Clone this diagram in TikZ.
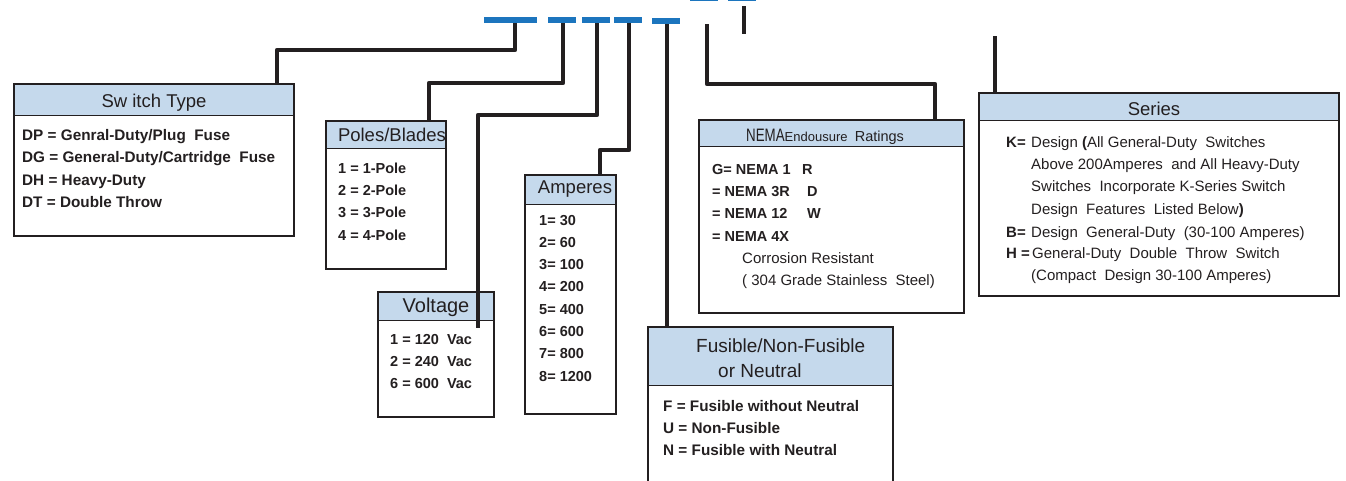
\documentclass[tikz,border=0pt]{standalone}
\usepackage{fontspec}
\setmainfont{Liberation Sans}
\definecolor{ink}{RGB}{35,31,32}
\definecolor{hdrblue}{RGB}{197,217,236}
\definecolor{dashblue}{RGB}{28,117,190}
\newcommand\fbold{\fontsize{14.5}{17}\selectfont\bfseries}
\newcommand\fboldw{\fontsize{15.3}{17}\selectfont\bfseries}
\newcommand\freg{\fontsize{15}{17}\selectfont}
\newcommand\ftitle{\fontsize{18.5}{21}\selectfont}
\begin{document}
\begin{tikzpicture}[x=1pt,y=-1pt,
  conn/.style={draw=ink,line width=4.2pt,line join=round},
  box/.style={draw=ink,line width=1.8pt,inner sep=0pt,anchor=north west},
  hdr/.style={fill=hdrblue,draw=ink,line width=1.1pt,inner sep=0pt,anchor=north west},
  dashbar/.style={fill=dashblue,inner sep=0pt,minimum height=5pt,anchor=west},
  lb/.style={anchor=base west,inner sep=0pt,text=ink,font=\fbold},
  lbw/.style={anchor=base west,inner sep=0pt,text=ink,font=\fboldw},
  lr/.style={anchor=base west,inner sep=0pt,text=ink,font=\freg},
  ttl/.style={anchor=base,inner sep=0pt,text=ink,font=\ftitle}]
\useasboundingbox (0,0) rectangle (1346,480);

% ---------- boxes ----------
% Switch Type
\node[hdr,minimum width=280pt,minimum height=32pt] (sth) at (13,83) {};
\node[box,minimum width=280pt,minimum height=152pt] (st) at (13,83) {};
\node[ttl] (stt) at (154,107) {Sw itch Type};
\node[lbw] (st1) at (22,140) {DP = Genral-Duty/Plug\ \ Fuse};
\node[lbw] (st2) at (22,162.5) {DG = General-Duty/Cartridge\ \ Fuse};
\node[lbw] (st3) at (22,185) {DH = Heavy-Duty};
\node[lbw] (st4) at (22,207) {DT = Double Throw};

% Poles/Blades
\node[hdr,minimum width=120pt,minimum height=28pt] (pbh) at (325,120) {};
\node[box,minimum width=120pt,minimum height=148pt] (pb) at (325,120) {};
\node[ttl] (pbt) at (392,141) {Poles/Blades};
\node[lb] (pb1) at (338,173) {1 = 1-Pole};
\node[lb] (pb2) at (338,195) {2 = 2-Pole};
\node[lb] (pb3) at (338,217) {3 = 3-Pole};
\node[lb] (pb4) at (338,240) {4 = 4-Pole};

% Voltage
\node[hdr,minimum width=116pt,minimum height=29pt] (voh) at (377,291) {};
\node[box,minimum width=116pt,minimum height=125pt] (vo) at (377,291) {};
\node[ttl,font=\fontsize{20}{22}\selectfont] (vot) at (436,312) {Voltage};
\node[lb] (vo1) at (390,344) {1 = 120\ \ Vac};
\node[lb] (vo2) at (390,366) {2 = 240\ \ Vac};
\node[lb] (vo3) at (390,388) {6 = 600\ \ Vac};

% Amperes
\node[hdr,minimum width=91pt,minimum height=30pt] (amh) at (524,174) {};
\node[box,minimum width=91pt,minimum height=239pt] (am) at (524,174) {};
\node[ttl] (amt) at (575,193) {Amperes};
\node[lb] (am1) at (539,225) {1= 30};
\node[lb] (am2) at (539,247.3) {2= 60};
\node[lb] (am3) at (539,269.6) {3= 100};
\node[lb] (am4) at (539,291.9) {4= 200};
\node[lb] (am5) at (539,314.2) {5= 400};
\node[lb] (am6) at (539,336.5) {6= 600};
\node[lb] (am7) at (539,358.8) {7= 800};
\node[lb] (am8) at (539,381) {8= 1200};

% NEMA
\node[hdr,minimum width=265pt,minimum height=27pt] (neh) at (698,119) {};
\node[box,minimum width=265pt,minimum height=193pt] (ne) at (698,119) {};
\node[anchor=base west,inner sep=0pt,text=ink] (net) at (746,141)
  {\fontsize{18}{20}\selectfont\scalebox{0.74}[1]{NEMA}\fontsize{13}{14}\selectfont Endousure\ \ \fontsize{14.5}{16}\selectfont Ratings};
\node[lb] (ne1) at (712,174) {\makebox[90pt][l]{G= NEMA 1}R};
\node[lb] (ne2) at (712,196) {\makebox[95pt][l]{= NEMA 3R}D};
\node[lb] (ne3) at (712,218) {\makebox[95pt][l]{= NEMA 12}W};
\node[lb] (ne4) at (712,241) {= NEMA 4X};
\node[lr] (ne5) at (742,263) {Corrosion Resistant};
\node[lr] (ne6) at (742,285) {( 304 Grade Stainless\ \ Steel)};

% Fusible
\node[hdr,minimum width=245pt,minimum height=59pt] (fuh) at (647,326) {};
\node[box,minimum width=245pt,minimum height=170pt] (fu) at (647,326) {};
\node[anchor=base west,inner sep=0pt,text=ink,font=\fontsize{19}{21}\selectfont] (fut1) at (696,352) {Fusible/Non-Fusible};
\node[anchor=base west,inner sep=0pt,text=ink,font=\fontsize{19}{21}\selectfont] (fut2) at (718,377) {or Neutral};
\node[lbw] (fu1) at (663,411) {F = Fusible without Neutral};
\node[lbw] (fu2) at (663,433) {U = Non-Fusible};
\node[lbw] (fu3) at (663,455) {N = Fusible with Neutral};

% Series
\node[hdr,minimum width=360pt,minimum height=28pt] (seh) at (978,92) {};
\node[box,minimum width=360pt,minimum height=203pt] (se) at (978,92) {};
\node[ttl] (set) at (1154,115) {Series};
\node[lr] (se1) at (1006,147) {\makebox[25pt][l]{\bfseries K=}Design \textbf{(}All General-Duty\ \ Switches};
\node[lr] (se2) at (1031,169) {Above 200Amperes\ \ and All Heavy-Duty};
\node[lr] (se3) at (1031,191) {Switches\ \ Incorporate K-Series Switch};
\node[lr] (se4) at (1031,214) {Design\ \ Features\ \ Listed Below\textbf{)}};
\node[lr] (se5) at (1006,237) {\makebox[25pt][l]{\bfseries B=}Design\ \ General-Duty\ \ (30-100 Amperes)};
\node[lr] (se6) at (1006,258) {\makebox[26pt][l]{\bfseries H =}General-Duty\ \ Double\ \ Throw\ \ Switch};
\node[lr] (se7) at (1031,280) {(Compact\ \ Design 30-100 Amperes)};

% ---------- code dashes ----------
\node[dashbar,minimum width=53pt] (d1) at (484,20) {};
\node[dashbar,minimum width=28pt] (d2) at (548,20) {};
\node[dashbar,minimum width=28pt] (d3) at (582,20) {};
\node[dashbar,minimum width=28pt] (d4) at (614,20) {};
\node[dashbar,minimum width=28pt] (d5) at (652,21) {};
\node[dashbar,minimum width=28pt] (d6) at (690,-1.5) {};
\node[dashbar,minimum width=28pt] (d7) at (728,-1.5) {};

% ---------- connectors ----------
\coordinate (a1) at (515,20);  \coordinate (a2) at (277,50);
\draw[conn] (a1) |- (a2) -- (a2 |- st.north);
\coordinate (b1) at (563,20);  \coordinate (b2) at (429,83);
\draw[conn] (b1) |- (b2) -- (b2 |- pb.north);
\coordinate (c1) at (597,20);  \coordinate (c2) at (478,115); \coordinate (c3) at (478,328);
\draw[conn] (c1) |- (c2) -- (c3);
\coordinate (e1) at (629,20);  \coordinate (e2) at (600,150);
\draw[conn] (e1) |- (e2) -- (e2 |- am.north);
\coordinate (f1) at (667,21);
\draw[conn] (f1) -- (f1 |- fu.north);
\coordinate (g1) at (707,24);  \coordinate (g2) at (935,84);
\draw[conn] (g1) |- (g2) -- (g2 |- ne.north);
\coordinate (h1) at (744,6);   \coordinate (h2) at (744,34);
\draw[conn] (h1) -- (h2);
\coordinate (k1) at (995,36);
\draw[conn] (k1) -- (k1 |- se.north);

% redraw dashes on top
\fill[dashblue] (d1.south west) rectangle (d1.north east);
\fill[dashblue] (d2.south west) rectangle (d2.north east);
\fill[dashblue] (d3.south west) rectangle (d3.north east);
\fill[dashblue] (d4.south west) rectangle (d4.north east);
\fill[dashblue] (d5.south west) rectangle (d5.north east);
\end{tikzpicture}
\end{document}
